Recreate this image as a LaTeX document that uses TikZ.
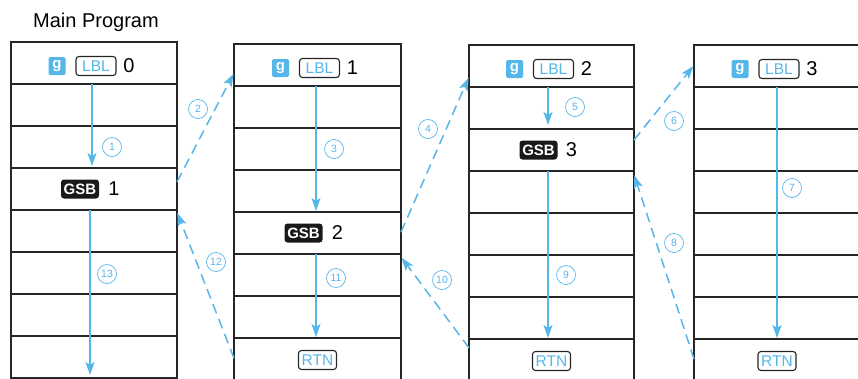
\documentclass[tikz,border=0pt]{standalone}
\usepackage{fontspec}
\setmainfont{Liberation Sans}
\usetikzlibrary{arrows.meta,calc}
\definecolor{hpblue}{HTML}{55B6EA}
\begin{document}
\begin{tikzpicture}[x=1pt,y=-1pt,
  cell/.style={draw=black!85,line width=1.3pt,minimum height=42pt,inner sep=0pt,outer sep=0pt,anchor=north west},
  gkey/.style={fill=hpblue,text=white,rounded corners=1.5pt,minimum width=17pt,minimum height=18pt,inner sep=0pt,font=\fontsize{15}{15}\selectfont\bfseries},
  lblkey/.style={draw=black!85,line width=1.1pt,rounded corners=3pt,text=hpblue,minimum width=40pt,minimum height=19pt,inner sep=0pt,font=\fontsize{15.5}{15.5}\selectfont},
  gsbkey/.style={fill=black!90,text=white,rounded corners=3pt,minimum width=38pt,minimum height=19pt,inner sep=0pt,font=\fontsize{15}{15}\selectfont\bfseries},
  num/.style={font=\fontsize{20}{20}\selectfont,inner sep=0pt},
  stepno/.style={circle,draw=hpblue,line width=0.7pt,minimum size=19pt,inner sep=0pt,text=hpblue,font=\fontsize{10.5}{10.5}\selectfont},
  flow/.style={hpblue,line width=1.5pt,-{Stealth[length=13pt,width=9pt,inset=3pt]}},
  jump/.style={flow,dash pattern=on 10pt off 6pt,shorten >=1pt},
]
\useasboundingbox (0,0) rectangle (858,378);

\node[anchor=base west,inner sep=0pt,font=\fontsize{20}{20}\selectfont] (title) at (33,27) {Main Program};

% program columns
\foreach \c/\x/\w/\t in {1/11/166/42,2/234/167/44,3/469/165/45,4/694/170/45}{
  \foreach \r in {1,...,8}{
    \node[cell,minimum width=\w pt] (c\c r\r) at (\x,{\t+42*(\r-1)}) {};
  }
}

% label rows
\foreach \c/\n/\d in {1/0/0,2/1/0,3/2/0,4/3/-2}{
  \node[gkey] (g\c) at ($(c\c r1.center)+(-37+\d,3)$) {g};
  \node[lblkey] (lbl\c) at ($(c\c r1.center)+(2+\d,3)$) {LBL};
  \node[num] (n\c) at ($(c\c r1.center)+(35+\d,3)$) {\n};
}

% GSB rows
\node[gsbkey] (gsb1) at ($(c1r4.center)+(-14,0)$) {GSB};
\node[num] (gn1) at ($(c1r4.center)+(20,0)$) {1};
\node[gsbkey] (gsb2) at ($(c2r5.center)+(-14,0)$) {GSB};
\node[num] (gn2) at ($(c2r5.center)+(20,0)$) {2};
\node[gsbkey] (gsb3) at ($(c3r3.center)+(-13,0)$) {GSB};
\node[num] (gn3) at ($(c3r3.center)+(20,0)$) {3};

% RTN rows
\foreach \c/\d in {2/0,3/0,4/-2}{
  \node[lblkey,minimum width=38pt] (rtn\c) at ($(c\c r8.center)+(\d,1)$) {RTN};
}

% solid flow arrows
\draw[flow] ($(c1r1.south)+(-2,0)$) -- ($(c1r4.north)+(-2,-2)$);
\draw[flow] ($(c1r4.south)+(-4,0)$) -- ($(c1r8.south)+(-4,-3)$);
\draw[flow] ($(c2r1.south)+(-1.5,0)$) -- ($(c2r5.north)+(-1.5,-1)$);
\draw[flow] ($(c2r5.south)+(-1.5,0)$) -- ($(c2r8.north)+(-1.5,-1)$);
\draw[flow] ($(c3r1.south)+(-3.5,0)$) -- ($(c3r3.north)+(-3.5,-4)$);
\draw[flow] ($(c3r3.south)+(-3.5,0)$) -- ($(c3r8.north)+(-3.5,-1)$);
\draw[flow] ($(c4r1.south)+(-2,0)$) -- ($(c4r8.north)+(-2,-1)$);

% dashed jumps
\draw[jump] ($(c1r4.north east)!0.33!(c1r4.south east)$) -- ($(c2r1.north west)!0.69!(c2r1.south west)$);
\draw[jump] ($(c2r5.north east)!0.48!(c2r5.south east)$) -- ($(c3r1.north west)!0.76!(c3r1.south west)$);
\draw[jump] ($(c3r3.north east)!0.26!(c3r3.south east)$) -- ($(c4r1.north west)!0.48!(c4r1.south west)$);
\draw[jump] ($(c4r8.north west)!0.48!(c4r8.south west)$) -- ($(c3r4.north east)!0.08!(c3r4.south east)$);
\draw[jump] ($(c3r8.north west)!0.21!(c3r8.south west)$) -- ($(c2r6.north east)!0.07!(c2r6.south east)$);
\draw[jump] ($(c2r8.north west)!0.48!(c2r8.south west)$) -- ($(c1r5.north east)!0.05!(c1r5.south east)$);

% step numbers
\node[stepno] (s1) at (112,147) {1};
\node[stepno] (s2) at (198,109) {2};
\node[stepno] (s3) at (334,149) {3};
\node[stepno] (s4) at (428,129) {4};
\node[stepno] (s5) at (575,107) {5};
\node[stepno] (s6) at (674,121) {6};
\node[stepno] (s7) at (792,188) {7};
\node[stepno] (s8) at (674,243) {8};
\node[stepno] (s9) at (566,275) {9};
\node[stepno] (s10) at (442,280) {10};
\node[stepno] (s11) at (336,278) {11};
\node[stepno] (s12) at (216,262) {12};
\node[stepno] (s13) at (107,274) {13};
\end{tikzpicture}
\end{document}
